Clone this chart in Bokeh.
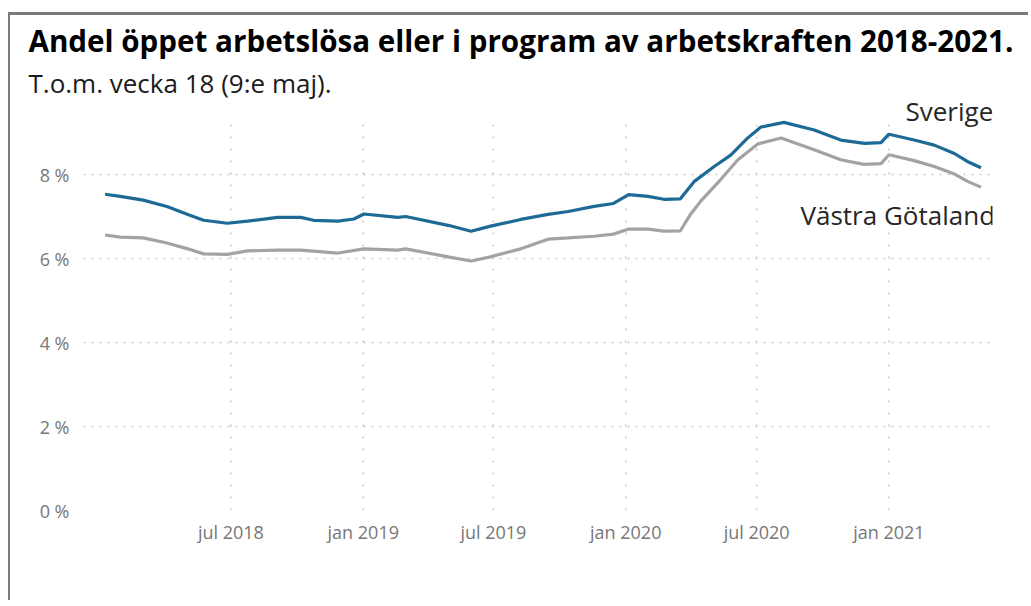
import pandas as pd
from bokeh.plotting import figure
from bokeh.models import FixedTicker, Label, Range1d, Title
from bokeh.embed import file_html
from bokeh.resources import INLINE

# ---- data ----
sverige_dates = ["2018-01-07", "2018-01-28", "2018-03-01", "2018-04-03", "2018-05-02", "2018-05-24",
                 "2018-06-26", "2018-07-24", "2018-09-04", "2018-10-06", "2018-10-24", "2018-11-27",
                 "2018-12-19", "2019-01-02", "2019-02-18", "2019-03-01", "2019-04-29", "2019-05-31",
                 "2019-06-27", "2019-08-08", "2019-09-15", "2019-10-13", "2019-11-18", "2019-12-15",
                 "2020-01-05", "2020-02-01", "2020-02-23", "2020-03-17", "2020-04-05", "2020-05-03",
                 "2020-05-26", "2020-06-18", "2020-07-07", "2020-08-08", "2020-09-19", "2020-10-26",
                 "2020-11-28", "2020-12-21", "2021-01-01", "2021-02-05", "2021-03-05", "2021-04-02",
                 "2021-04-20", "2021-05-09"]
sverige_values = [7.53, 7.48, 7.39, 7.24, 7.05, 6.91,
                  6.84, 6.89, 6.98, 6.98, 6.91, 6.89,
                  6.94, 7.06, 6.98, 7.00, 6.79, 6.65,
                  6.77, 6.93, 7.05, 7.12, 7.24, 7.31,
                  7.52, 7.48, 7.41, 7.42, 7.83, 8.19,
                  8.46, 8.86, 9.13, 9.24, 9.06, 8.82,
                  8.74, 8.76, 8.96, 8.82, 8.70, 8.50,
                  8.31, 8.16]

vg_dates = ["2018-01-07", "2018-01-28", "2018-03-01", "2018-04-03", "2018-05-02", "2018-05-24",
            "2018-06-26", "2018-07-24", "2018-09-04", "2018-10-06", "2018-11-27", "2019-01-02",
            "2019-02-18", "2019-03-01", "2019-04-29", "2019-05-31", "2019-06-27", "2019-08-08",
            "2019-09-15", "2019-10-13", "2019-11-18", "2019-12-15", "2020-01-05", "2020-02-01",
            "2020-02-23", "2020-03-17", "2020-03-31", "2020-04-14", "2020-05-12", "2020-06-05",
            "2020-07-03", "2020-08-04", "2020-09-19", "2020-10-26", "2020-11-27", "2020-12-21",
            "2021-01-01", "2021-02-05", "2021-03-05", "2021-04-01", "2021-04-21", "2021-05-09"]
vg_values = [6.56, 6.51, 6.49, 6.37, 6.23, 6.11,
             6.10, 6.18, 6.20, 6.20, 6.13, 6.23,
             6.20, 6.23, 6.04, 5.94, 6.04, 6.23,
             6.46, 6.49, 6.53, 6.58, 6.70, 6.70,
             6.65, 6.66, 7.05, 7.36, 7.88, 8.35,
             8.73, 8.87, 8.59, 8.35, 8.24, 8.26,
             8.47, 8.33, 8.19, 8.02, 7.83, 7.70]

x_tick_dates = ["2018-07-01", "2019-01-01", "2019-07-01", "2020-01-01", "2020-07-01", "2021-01-01"]
x_tick_labels = ["jul 2018", "jan 2019", "jul 2019", "jan 2020", "jul 2020", "jan 2021"]
y_ticks = [0, 2, 4, 6, 8]
y_tick_labels = ["0 %", "2 %", "4 %", "6 %", "8 %"]
x_grid_top = 9.2  # vertical grid lines stop a little below the top of the plot area

title_text = "Andel öppet arbetslösa eller i program av arbetskraften 2018-2021."
subtitle_text = "T.o.m. vecka 18 (9:e maj)."
series_names = ["Sverige", "Västra Götaland"]


def ms(d):
    return int(pd.Timestamp(d).value // 1_000_000)


FONT = "Open Sans"

p = figure(width=1020, height=588, output_backend="svg", toolbar_location=None,
           x_range=Range1d(ms("2017-12-08"), ms("2021-05-25")),
           y_range=Range1d(0, 9.762),
           min_border_left=73, min_border_right=38, min_border_top=85, min_border_bottom=93)
p.styles = {"border-top": "3px solid #7b7b7b", "border-left": "2px solid #7b7b7b",
            "margin-top": "12px", "margin-left": "8px"}
p.outline_line_color = None
p.background_fill_color = "white"
p.border_fill_color = "white"

# vertical dotted grid lines at the x ticks
xt = [ms(d) for d in x_tick_dates]
p.segment(x0=xt, y0=[0] * len(xt), x1=xt, y1=[x_grid_top] * len(xt),
          line_color="#c8c8c8", line_width=1.5, line_dash="2 10")
p.xgrid.grid_line_color = None
p.ygrid.grid_line_color = "#cccccc"
p.ygrid.grid_line_dash = "2 6"
p.ygrid.grid_line_width = 1.5

# lines
p.line([ms(d) for d in vg_dates], vg_values, line_color="#a3a3a3", line_width=3.2)
p.line([ms(d) for d in sverige_dates], sverige_values, line_color="#1d6a97", line_width=3.2)

# axes
p.xaxis.ticker = FixedTicker(ticks=xt)
p.xaxis.major_label_overrides = {t: lab for t, lab in zip(xt, x_tick_labels)}
p.yaxis.ticker = FixedTicker(ticks=y_ticks)
p.yaxis.major_label_overrides = {t: lab for t, lab in zip(y_ticks, y_tick_labels)}
for ax in (p.xaxis[0], p.yaxis[0]):
    ax.axis_line_color = None
    ax.major_tick_line_color = None
    ax.minor_tick_line_color = None
    ax.major_tick_out = 0
    ax.major_tick_in = 0
    ax.minor_tick_out = 0
    ax.major_label_text_font = FONT
    ax.major_label_text_font_size = "18px"
    ax.major_label_text_color = "#777777"
p.xaxis.major_label_standoff = 9
p.yaxis.major_label_standoff = 14

# title + subtitle (subtitle added first = closest to the frame)
p.add_layout(Title(text=subtitle_text, align="left", offset=-55, standoff=0,
                   text_font=FONT, text_font_size="26px", text_font_style="normal",
                   text_color="#1a1a1a"), "above")
p.add_layout(Title(text=title_text, align="left", offset=-55, standoff=4,
                   text_font=FONT, text_font_size="29.6px", text_font_style="bold",
                   text_color="#000000"), "above")

# series labels
p.add_layout(Label(x=822, y=400, x_units="screen", y_units="screen", text=series_names[0],
                   text_font=FONT, text_font_size="26px",
                   text_color="#262626", text_baseline="alphabetic"))
p.add_layout(Label(x=717, y=296, x_units="screen", y_units="screen", text=series_names[1],
                   text_font=FONT, text_font_size="26px",
                   text_color="#262626", text_baseline="alphabetic"))

open("out.html", "w").write(file_html(p, INLINE))
